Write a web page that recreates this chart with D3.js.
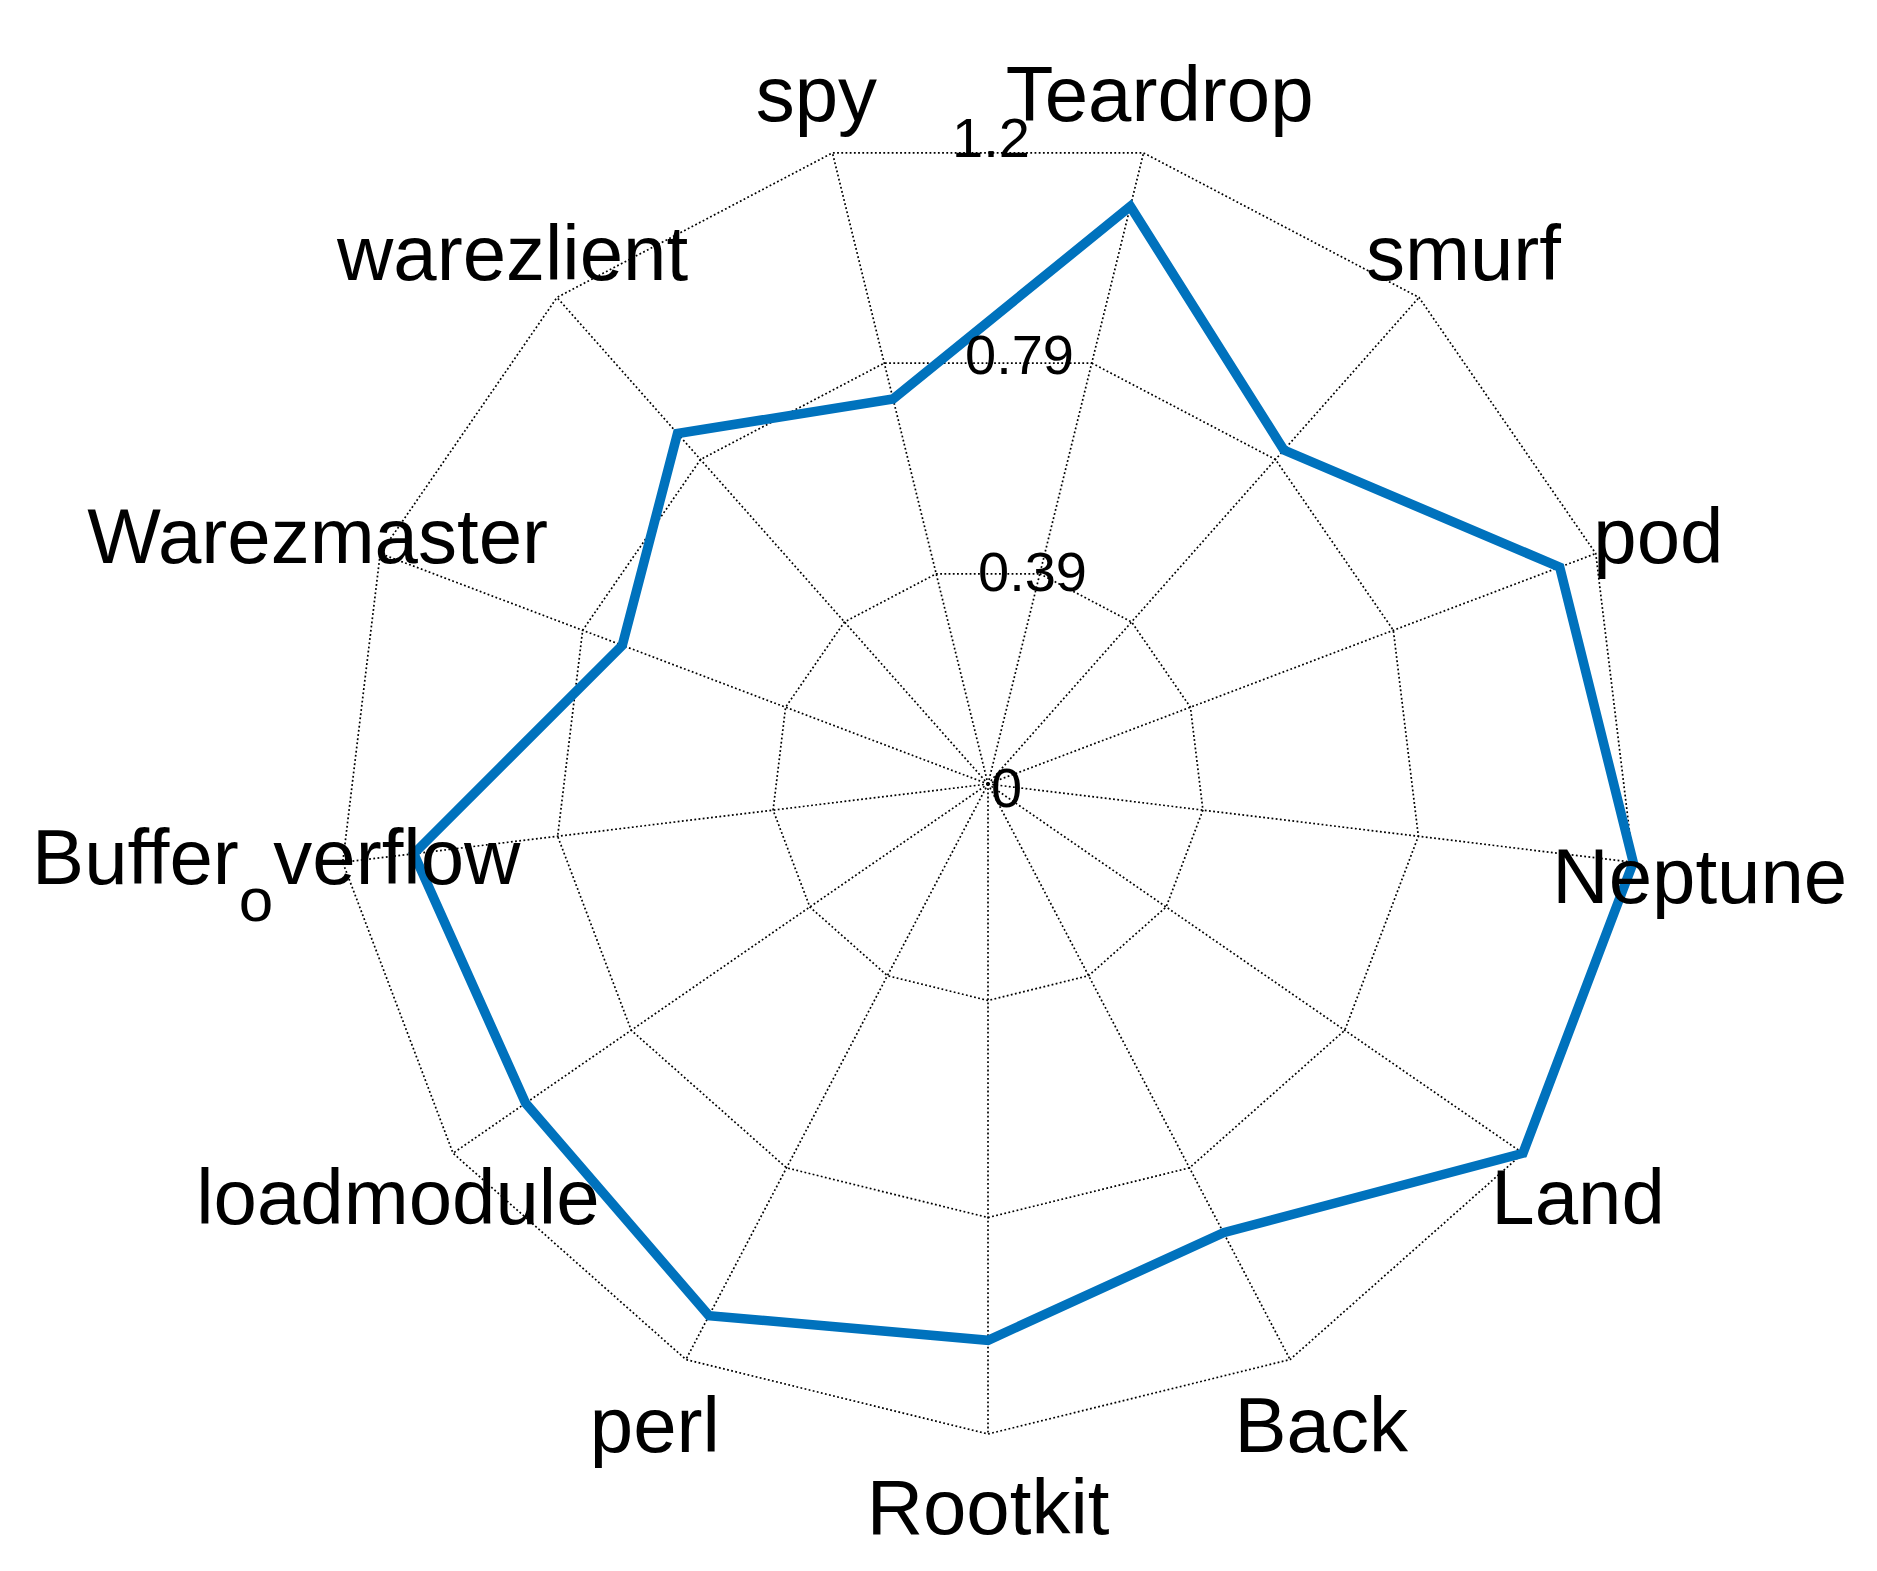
<!DOCTYPE html>
<html>
<head>
<meta charset="utf-8">
<script src="https://cdn.jsdelivr.net/npm/d3@7"></script>
<style>
  body { margin: 0; background: #fff; }
  text { font-family: "Liberation Sans", Arial, Helvetica, sans-serif; fill: #000; }
</style>
</head>
<body>
<svg id="chart" width="1877" height="1571"></svg>
<script>
// categories, clockwise from the top
var categories = ["Teardrop", "smurf", "pod", "Neptune", "Land", "Back", "Rootkit",
  "perl", "loadmodule", "Buffer_overflow", "Warezmaster", "warezlient", "spy"];

// values
var values = [1.08, 0.81, 1.11, 1.18, 1.18, 0.92, 1.01, 1.09, 1.02, 1.05, 0.71, 0.85, 0.72];

// rings and the labels printed on them
var tickValues = [0, 0.393, 0.787, 1.18];
var tickLabels = ["0", "0.39", "0.79", "1.2"];
var axisMax = 1.18;

var svg = d3.select("#chart");
var cx = 988, cy = 784, R = 650;
var labelR = 717;
var fontSize = 78, tickFont = 56;

var r = d3.scaleLinear().domain([0, axisMax]).range([0, R]);
var step = 2 * Math.PI / categories.length;
// angle of axis i, clockwise from 12 o'clock (half step offset -> Rootkit points down)
function angle(i) { return (i + 0.5) * step; }

var g = svg.append("g").attr("transform", "translate(" + cx + "," + cy + ")");

var dotted = function(sel) {
  sel.attr("fill", "none")
    .attr("stroke", "#000")
    .attr("stroke-width", 1.7)
    .attr("stroke-dasharray", "1.8 2.4");
};

// rings
var ring = d3.lineRadial()
  .angle((d, i) => angle(i))
  .radius(d => r(d))
  .curve(d3.curveLinearClosed);

g.selectAll(".ring")
  .data(tickValues.filter(t => t > 0))
  .enter()
  .append("path")
  .classed("ring", true)
  .attr("d", t => ring(categories.map(() => t)))
  .call(dotted);

// spokes
g.selectAll(".spoke")
  .data(categories)
  .enter()
  .append("line")
  .classed("spoke", true)
  .attr("x1", 0).attr("y1", 0)
  .attr("x2", (d, i) => r(axisMax) * Math.sin(angle(i)))
  .attr("y2", (d, i) => -r(axisMax) * Math.cos(angle(i)))
  .call(dotted);

// data line
g.append("path")
  .attr("d", ring(values))
  .attr("fill", "none")
  .attr("stroke", "#0072BD")
  .attr("stroke-width", 9.5)
  .attr("stroke-linejoin", "miter");

// ring labels, stacked up the middle and drifting a little left
g.selectAll(".tick")
  .data(tickValues)
  .enter()
  .append("text")
  .classed("tick", true)
  .attr("x", d => 3 - 0.06 * r(d))
  .attr("y", d => 3 - r(d))
  .attr("dy", "0.36em")
  .attr("font-size", tickFont)
  .text((d, i) => tickLabels[i]);

// category labels (TeX style: "_" makes the next letter a subscript)
var subDrop = 37;
g.selectAll(".cat")
  .data(categories)
  .enter()
  .append("text")
  .classed("cat", true)
  .attr("text-anchor", "middle")
  .attr("font-size", fontSize)
  .attr("x", (d, i) => labelR * Math.sin(angle(i)))
  .attr("y", (d, i) => -labelR * Math.cos(angle(i)) + (d.indexOf("_") >= 0 ? 33 - subDrop / 2 - 1 : 33))
  .each(function(d) {
    var t = d3.select(this);
    var parts = d.split("_");
    t.append("tspan").text(parts[0]);
    parts.slice(1).forEach(function(p) {
      t.append("tspan").attr("dy", subDrop).attr("font-size", 62).text(p.charAt(0));
      t.append("tspan").attr("dy", -subDrop).text(p.slice(1));
    });
  });
</script>
</body>
</html>
